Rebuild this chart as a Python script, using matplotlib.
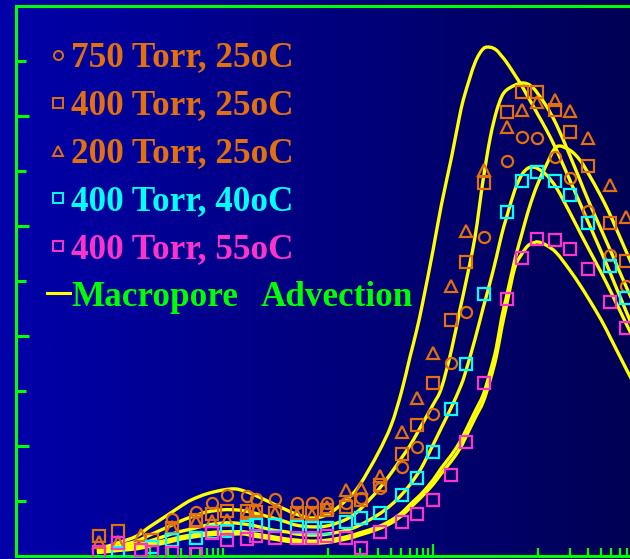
import numpy as np
import matplotlib
matplotlib.use("Agg")
import matplotlib.pyplot as plt
from matplotlib.lines import Line2D
from matplotlib.path import Path
from matplotlib.patches import PathPatch
from matplotlib.colors import LinearSegmentedColormap
from matplotlib.ticker import FixedLocator, NullFormatter

# ---------------- data ----------------
# sampling times (log axis)
t_obs = [0.0066, 0.010, 0.0165, 0.021, 0.033, 0.055, 0.078, 0.11, 0.17, 0.205,
         0.31, 0.51, 0.70, 0.98, 1.5, 2.06, 3.1, 5.1, 7.0, 10.0,
         14.8, 20.6, 30.5, 50.5, 70.0, 98.0, 145.0, 200.0, 300.0, 485.0, 690.0]

nan = np.nan
p750_25 = [nan, nan, nan, nan, 0.067, 0.080, 0.096, 0.111, 0.109, 0.104,
           0.104, 0.096, 0.096, 0.096, 0.096, 0.105, 0.124, 0.162, 0.198, 0.258,
           0.351, 0.444, 0.580, 0.718, 0.762, 0.760, 0.725, 0.687, 0.627, 0.547, 0.491]
p400_25 = [0.036, 0.045, nan, 0.029, 0.051, 0.065, 0.076, 0.082, 0.082, 0.080,
           0.078, 0.078, 0.078, 0.084, 0.089, 0.102, 0.129, 0.185, 0.238, 0.315,
           0.429, 0.535, 0.678, 0.807, 0.844, 0.844, 0.811, 0.771, 0.709, 0.605, 0.536]
p200_25 = [0.025, 0.025, 0.038, nan, 0.053, 0.064, 0.064, 0.065, 0.078, 0.084,
           0.078, 0.075, 0.075, 0.089, 0.120, 0.124, 0.145, 0.225, 0.287, 0.369,
           0.491, 0.591, 0.702, 0.780, 0.811, 0.825, 0.829, 0.809, 0.760, 0.675, 0.616]
p400_40 = [nan, 0.005, nan, 0.016, 0.029, 0.033, 0.044, 0.045, 0.053, 0.056,
           0.056, 0.053, 0.051, 0.051, 0.062, 0.069, 0.078, 0.111, 0.142, 0.189,
           0.267, 0.349, 0.476, 0.625, 0.682, 0.698, 0.682, 0.656, 0.605, 0.527, 0.469]
p400_55 = [0.007, 0.024, 0.011, 0.007, 0.005, 0.004, 0.042, 0.029, 0.031, 0.036,
           0.033, 0.033, 0.033, 0.036, 0.033, 0.015, 0.044, 0.062, 0.076, 0.102,
           0.147, 0.207, 0.315, 0.467, 0.542, 0.576, 0.575, 0.558, 0.522, 0.462, 0.415]

# model curves (macropore advection)
t_model = [0.0063, 0.008, 0.01, 0.015, 0.02, 0.03, 0.04, 0.05, 0.07, 0.1,
           0.13, 0.16, 0.2, 0.3, 0.4, 0.5, 0.7, 1, 1.5, 2,
           3, 4, 5, 6, 7, 8, 10, 12, 15, 18,
           20, 25, 30, 35, 40, 45, 50, 60, 70, 80,
           90, 100, 120, 150, 200, 250, 300, 400, 500, 700, 900]
model_a = [0.015, 0.018, 0.024, 0.036, 0.053, 0.075, 0.091, 0.102, 0.113, 0.120,
           0.122, 0.118, 0.111, 0.095, 0.084, 0.076, 0.069, 0.076, 0.102, 0.129,
           0.187, 0.238, 0.298, 0.360, 0.411, 0.462, 0.556, 0.638, 0.725, 0.802,
           0.838, 0.896, 0.922, 0.925, 0.920, 0.909, 0.898, 0.875, 0.855, 0.835,
           0.818, 0.802, 0.775, 0.738, 0.684, 0.642, 0.607, 0.553, 0.509, 0.442, 0.393]
model_b = [0.013, 0.015, 0.018, 0.027, 0.038, 0.053, 0.064, 0.071, 0.080, 0.084,
           0.084, 0.082, 0.078, 0.069, 0.062, 0.056, 0.053, 0.055, 0.067, 0.084,
           0.120, 0.151, 0.178, 0.200, 0.222, 0.242, 0.275, 0.305, 0.375, 0.447,
           0.487, 0.578, 0.684, 0.760, 0.807, 0.835, 0.847, 0.856, 0.860, 0.858,
           0.851, 0.840, 0.818, 0.784, 0.729, 0.684, 0.647, 0.593, 0.551, 0.487, 0.442]
model_c = [0.009, 0.011, 0.013, 0.016, 0.022, 0.029, 0.035, 0.038, 0.042, 0.044,
           0.044, 0.044, 0.040, 0.035, 0.031, 0.029, 0.027, 0.029, 0.035, 0.042,
           0.053, 0.065, 0.078, 0.093, 0.105, 0.116, 0.138, 0.160, 0.184, 0.207,
           0.224, 0.262, 0.293, 0.335, 0.378, 0.433, 0.471, 0.538, 0.585, 0.625,
           0.655, 0.678, 0.711, 0.744, 0.738, 0.720, 0.696, 0.653, 0.615, 0.551, 0.505]
model_d = [0.011, 0.013, 0.015, 0.020, 0.027, 0.038, 0.045, 0.049, 0.056, 0.060,
           0.060, 0.058, 0.055, 0.047, 0.044, 0.040, 0.038, 0.040, 0.047, 0.056,
           0.075, 0.093, 0.111, 0.129, 0.147, 0.165, 0.202, 0.233, 0.271, 0.305,
           0.329, 0.393, 0.451, 0.498, 0.542, 0.584, 0.615, 0.665, 0.693, 0.705,
           0.707, 0.704, 0.693, 0.669, 0.625, 0.589, 0.560, 0.515, 0.478, 0.420, 0.378]
model_e = [0.006, 0.008, 0.010, 0.013, 0.018, 0.025, 0.031, 0.034, 0.038, 0.040,
           0.040, 0.040, 0.036, 0.031, 0.027, 0.025, 0.023, 0.025, 0.031, 0.038,
           0.049, 0.060, 0.073, 0.087, 0.099, 0.110, 0.130, 0.150, 0.173, 0.195,
           0.212, 0.250, 0.280, 0.320, 0.362, 0.414, 0.455, 0.524, 0.549, 0.564,
           0.569, 0.571, 0.565, 0.551, 0.520, 0.493, 0.469, 0.429, 0.393, 0.338, 0.298]

labels = ["750 Torr, 25oC", "400 Torr, 25oC", "200 Torr, 25oC",
          "400 Torr, 40oC", "400 Torr, 55oC"]
model_words = ["Macropore", "Advection"]

# ---------------- style ----------------
ORANGE = "#E2700E"
CYAN = "#00FFFF"
PINK = "#FF33CC"
GREEN = "#00FF00"
YELLOW = "#FFFF00"


def smooth_curve(x, y):
    """Bezier path through the points, built in log-x space."""
    pts = np.column_stack([np.log10(x), np.asarray(y, float)])
    verts = [pts[0]]
    codes = [Path.MOVETO]
    n = len(pts)
    for i in range(n - 1):
        p0 = pts[max(i - 1, 0)]
        p1 = pts[i]
        p2 = pts[i + 1]
        p3 = pts[min(i + 2, n - 1)]
        verts += [p1 + (p2 - p0) / 6.0, p2 - (p3 - p1) / 6.0, p2]
        codes += [Path.CURVE4] * 3
    verts = np.array(verts)
    verts[:, 0] = 10 ** verts[:, 0]
    return Path(verts, codes)


W, H = 630, 559
fig = plt.figure(figsize=(W / 100, H / 100), dpi=100)

# slide background: horizontal blue gradient
bg = fig.add_axes([0, 0, 1, 1], zorder=-10)
grad = np.linspace(0, 1, 512).reshape(1, -1)
bg.imshow(grad, aspect="auto", extent=[0, 1, 0, 1],
          cmap=LinearSegmentedColormap.from_list("bg", ["#0000AA", "#000055"]))
bg.set_axis_off()

ax = fig.add_axes([16 / W, 3 / H, (720 - 16) / W, 550 / H])
ax.set_facecolor("none")
ax.set_xscale("log")
ax.set_xlim(1.07e-3, 5.4e3)
ax.set_ylim(0, 1.0)

# curves
for yv in (model_a, model_b, model_c, model_d, model_e):
    ax.add_patch(PathPatch(smooth_curve(t_model, yv), fill=False, ec=YELLOW,
                           lw=2.4, joinstyle="round", zorder=2))

# observations
series = [
    (p750_25, "o", ORANGE),
    (p400_25, "s", ORANGE),
    (p200_25, "^", ORANGE),
    (p400_40, "s", CYAN),
    (p400_55, "s", PINK),
]
for yv, mk, col in series:
    ax.plot(t_obs, yv, ls="none", marker=mk, ms=8, mfc="none", mec=col,
            mew=1.6, zorder=3)

# frame
for side in ("left", "top", "bottom"):
    ax.spines[side].set_color(GREEN)
    ax.spines[side].set_linewidth(2.2)
ax.spines["right"].set_visible(False)

ax.xaxis.set_major_locator(FixedLocator([10]))
xminor = ([k * 0.01 for k in range(2, 11)] + [1.0] + list(range(2, 10))
          + [100.0] + [k * 100.0 for k in range(2, 10)])
ax.xaxis.set_minor_locator(FixedLocator(xminor))
ax.yaxis.set_major_locator(FixedLocator([0.2, 0.4, 0.6, 0.8]))
ax.yaxis.set_minor_locator(FixedLocator([0.1, 0.3, 0.5, 0.7, 0.9]))
ax.xaxis.set_major_formatter(NullFormatter())
ax.xaxis.set_minor_formatter(NullFormatter())
ax.yaxis.set_major_formatter(NullFormatter())
ax.tick_params(axis="x", which="major", direction="in", length=8.5, width=1.6,
               color=GREEN, top=False)
ax.tick_params(axis="x", which="minor", direction="in", length=5.8, width=1.6,
               color=GREEN, top=False)
ax.tick_params(axis="y", which="major", direction="in", length=9.4, width=2.2,
               color=GREEN, right=False)
ax.tick_params(axis="y", which="minor", direction="in", length=7.2, width=2.2,
               color=GREEN, right=False)

# legend block
font = dict(family=["Liberation Serif", "DejaVu Serif"], weight="bold", size=25.3)
text_cols = [ORANGE, ORANGE, ORANGE, CYAN, PINK]
baselines = [66.5, 114.5, 162.5, 210.5, 258.0]
centers = [55, 103, 151, 198, 246]
for (yv, mk, col), lab, tc, b, c in zip(series, labels, text_cols, baselines, centers):
    fig.text(71 / W, 1 - b / H, lab, color=tc, va="baseline", ha="left", **font)
    fig.add_artist(Line2D([58 / W], [1 - c / H], transform=fig.transFigure,
                          marker=mk, ms=6.5, mfc="none", mec=col, mew=1.4, ls="none"))
fig.add_artist(Line2D([47 / W, 70 / W], [1 - 293 / H, 1 - 293 / H],
                      transform=fig.transFigure, color=YELLOW, lw=2.2))
fig.text(71 / W, 1 - 305.5 / H, model_words[0], color=GREEN, va="baseline",
         ha="left", **font)
fig.text(261 / W, 1 - 305.5 / H, model_words[1], color=GREEN, va="baseline",
         ha="left", **font)

fig.savefig("out.png", dpi=100)
